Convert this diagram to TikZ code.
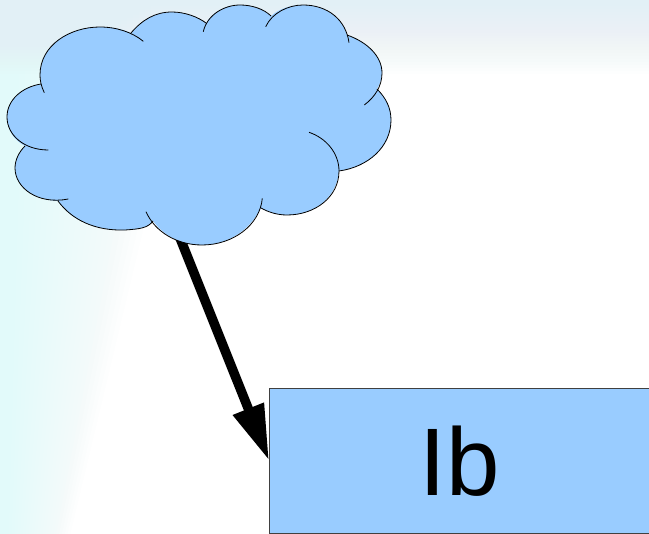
\documentclass[tikz,border=0pt]{standalone}
\usepackage{fontspec}
\setmainfont{Liberation Sans}
\usetikzlibrary{arrows.meta,positioning}
\definecolor{skyfill}{RGB}{153,204,255}
\definecolor{paleedge}{RGB}{226,250,250}
\definecolor{paletop}{RGB}{226,240,246}
\tikzset{
  lobe/.style={draw=black,line width=0.8pt},
  labelbox/.style={draw=black!75,line width=0.8pt,fill=skyfill,minimum width=381pt,minimum height=145pt,inner sep=0pt,font=\fontsize{96}{100}\selectfont},
  heavy/.style={line width=9.5pt,-{Triangle[length=56pt,width=31pt]}}
}
\begin{document}
\begin{tikzpicture}[x=1pt,y=-1pt]
\useasboundingbox (0,0) rectangle (649,534);
% backdrop
\fill[white] (0,0) rectangle (649,534);
\foreach \t in {0.04,0.08,...,1.01}{
  \fill[paleedge,opacity=0.06] (0,0) -- (150*\t,0) -- (150*\t,200) -- (70*\t,534) -- (0,534) -- cycle;
  \fill[paletop,opacity=0.05] (0,0) rectangle (649,74*\t);
}

\node[labelbox] (box) at (460,460.7) {Ib};
\coordinate (cloudfoot) at (176,228);
\draw[heavy] (cloudfoot) -- (box.west);

% cloud body
\fill[skyfill] (40,75) .. controls (40,45) and (70,27) .. (100,27)
  .. controls (112,27) and (122,29) .. (131,33)
  .. controls (142,20) and (155,12) .. (172,12)
  .. controls (185,12) and (198,17) .. (206,23)
  .. controls (213,12) and (226,5) .. (240,5)
  .. controls (252,5) and (264,9) .. (271,16)
  .. controls (279,9) and (290,5) .. (303,5)
  .. controls (325,5) and (342,18) .. (347,35)
  .. controls (367,42) and (382,56) .. (382,73)
  .. controls (382,78) and (380,84) .. (377,89)
  .. controls (386,98) and (391,108) .. (391,120)
  .. controls (391,147) and (368,167) .. (339,171)
  .. controls (337,197) and (315,215) .. (287,215)
  .. controls (277,215) and (268,212) .. (261,208)
  .. controls (250,230) and (228,245) .. (202,245)
  .. controls (180,245) and (163,235) .. (153,221)
  .. controls (148,228) and (140,229) .. (125,230)
  .. controls (95,231) and (72,220) .. (58,201)
  .. controls (33,200) and (15,186) .. (15,168)
  .. controls (15,160) and (19,152) .. (25,146)
  .. controls (14,140) and (7,130) .. (7,117)
  .. controls (7,100) and (22,87) .. (41,84)
  -- cycle;

% cloud lobes
\draw[lobe] (44.3,92.7) .. controls (41,86) and (40,80) .. (40,75) .. controls (40,45) and (70,27) .. (100,27) .. controls (116,27) and (132,32) .. (143.3,41.3);
\draw[lobe] (131,33) .. controls (142,20) and (155,12) .. (172,12) .. controls (185,12) and (198,17) .. (206,23);
\draw[lobe] (203.3,31.7) .. controls (207,15) and (224,5) .. (240,5) .. controls (252,5) and (264,9) .. (271,16);
\draw[lobe] (265.7,26.7) .. controls (272,13) and (288,5) .. (303,5) .. controls (328,5) and (346,20) .. (349,42.7);
\draw[lobe] (347,35) .. controls (367,42) and (382,56) .. (382,73) .. controls (382,86) and (375,97) .. (364.3,105);
\draw[lobe] (377,89) .. controls (386,98) and (391,108) .. (391,120) .. controls (391,147) and (368,167) .. (339,171);
\draw[lobe] (309,132.3) .. controls (326,138) and (339,153) .. (339,171) .. controls (339,197) and (315,215) .. (287,215) .. controls (277,215) and (268,212) .. (261,208);
\draw[lobe] (262.3,198.3) .. controls (260,225) and (233,245) .. (202,245) .. controls (177,245) and (155,232) .. (146,211.7);
\draw[lobe] (153,221) .. controls (148,228) and (140,229) .. (125,230) .. controls (95,231) and (72,220) .. (58,201);
\draw[lobe] (68.3,199) .. controls (38,205) and (15,188) .. (15,168) .. controls (15,160) and (19,152) .. (25,146);
\draw[lobe] (48.3,150) .. controls (24,150) and (7,135) .. (7,117) .. controls (7,100) and (22,87) .. (41,84);
\end{tikzpicture}
\end{document}
